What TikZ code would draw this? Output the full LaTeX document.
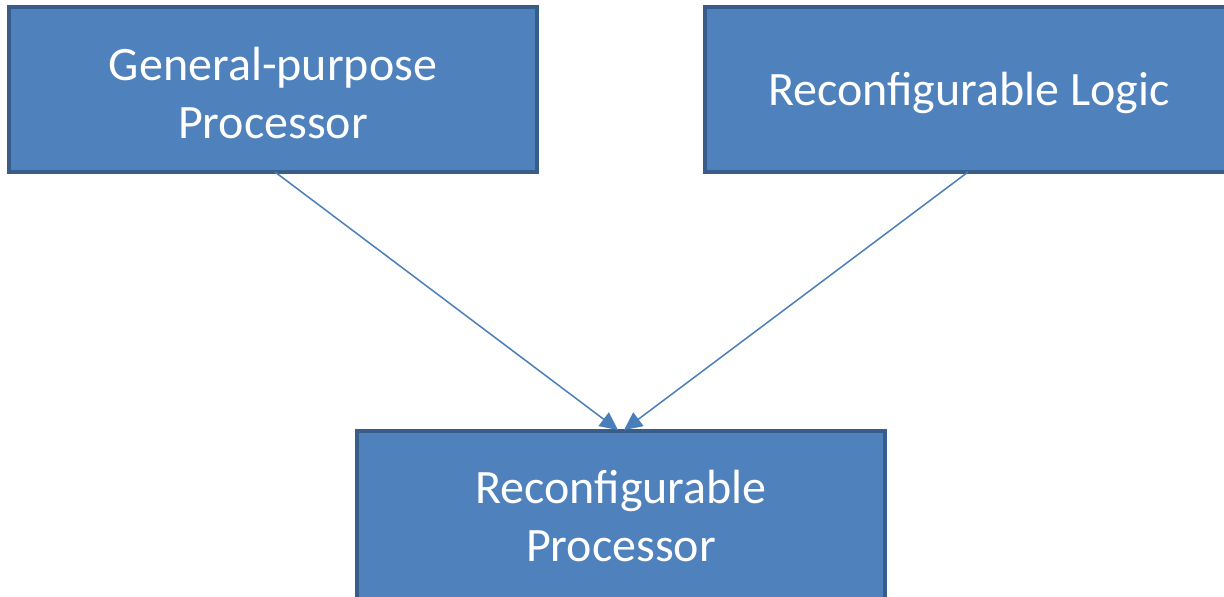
\documentclass[tikz,border=0pt]{standalone}
\usepackage{fontspec}
\setmainfont{Carlito}
\usetikzlibrary{arrows.meta}
\definecolor{boxfill}{HTML}{4F81BD}
\definecolor{boxline}{HTML}{385D8A}
\definecolor{arrowc}{HTML}{4A7EBB}
\begin{document}
\begin{tikzpicture}[x=1pt,y=-1pt,
  blk/.style={draw=boxline,fill=boxfill,line width=4pt},
  lbl/.style={text=white,font=\fontsize{48}{58}\selectfont,align=center},
  conn/.style={draw=arrowc,line width=1.5pt,-{Triangle[length=18pt,width=17pt]}}]
\useasboundingbox (0,0) rectangle (1224,597);
\begin{scope}
\clip (0,0) rectangle (1224,597);
\draw[blk] (9,7) rectangle (537,172);
\draw[blk] (705,7) rectangle (1240,172);
\draw[blk] (357,431) rectangle (885,610);
\end{scope}
\node[lbl] (gpp) at (273,93) {General-purpose\\Processor};
\node[lbl] (rl) at (969,93) {Reconfigurable Logic};
\node[lbl] (rp) at (621,516) {Reconfigurable\\Processor};
\coordinate (gppS) at (275,172);
\coordinate (rlS) at (968,172);
\coordinate (tipL) at (618,430);
\coordinate (tipR) at (624,430);
\draw[conn] (gppS) -- (tipL);
\draw[conn] (rlS) -- (tipR);
\end{tikzpicture}
\end{document}
